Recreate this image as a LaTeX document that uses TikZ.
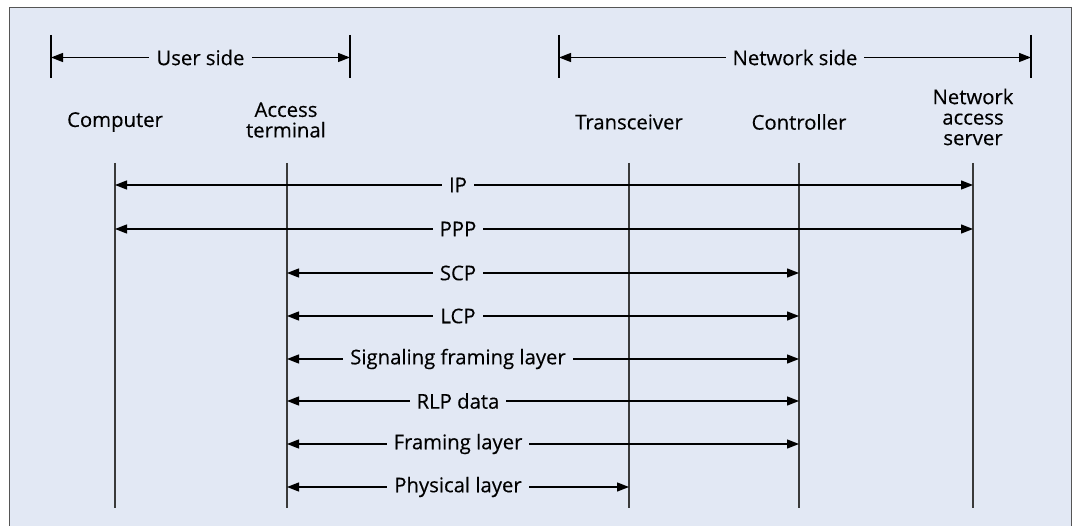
\documentclass[tikz,border=0pt]{standalone}
\usepackage{fontspec}
\setmainfont{Open Sans}[FakeBold=0.3]
\usetikzlibrary{arrows.meta}
\definecolor{bgfill}{HTML}{E2E8F4}
\definecolor{framec}{HTML}{555555}
\definecolor{linec}{HTML}{3A3A3A}
\tikzset{
  every node/.style={font=\fontsize{20.3}{20.5}\selectfont, text=black},
  lbl/.style={fill=bgfill, inner xsep=7pt, inner ysep=1pt},
  head/.style={align=center, inner sep=0pt},
  life/.style={draw=linec, line width=1.7pt},
  tickl/.style={draw=black, line width=1.1pt},
  dbl/.style={draw=black, line width=1.3pt, {Triangle[length=12pt,width=9pt]}-{Triangle[length=12pt,width=9pt]}},
}
\begin{document}
\begin{tikzpicture}[x=1pt,y=-1pt]
\useasboundingbox (0,0) rectangle (1075,526);
\fill[white] (0,0) rectangle (1075,526);
\filldraw[fill=bgfill, draw=framec, line width=1pt] (9,530) -- (9,8) -- (1071,8) -- (1071,530);

% span ticks
\coordinate (u1t) at (51,35); \coordinate (u1b) at (51,78);
\coordinate (u2t) at (350,35); \coordinate (u2b) at (350,78);
\coordinate (n1t) at (559,35); \coordinate (n1b) at (559,78);
\coordinate (n2t) at (1031,35); \coordinate (n2b) at (1031,78);
\draw[tickl] (u1t) -- (u1b);
\draw[tickl] (u2t) -- (u2b);
\draw[tickl] (n1t) -- (n1b);
\draw[tickl] (n2t) -- (n2b);
\coordinate (ua) at (51,57.5); \coordinate (ub) at (350,57.5);
\coordinate (na) at (559,57.5); \coordinate (nb) at (1031,57.5);
\draw[dbl] (ua) -- (ub);
\draw[dbl] (na) -- (nb);
\node[lbl] (user) at (200.5,57.5) {User side};
\node[lbl] (net) at (795,57.5) {Network side};

% headers
\node[head] (comp) at (115,122) {Computer};
\node[head] (at) at (286,120) {Access\\terminal};
\node[head] (tr) at (629,122) {Transceiver};
\node[head] (ctl) at (799,122) {Controller};
\node[head] (nas) at (973,117) {Network\\access\\server};

% lifelines
\coordinate (c0) at (115,163); \coordinate (c1) at (115,508);
\coordinate (a0) at (287,163); \coordinate (a1) at (287,508);
\coordinate (t0) at (629,163); \coordinate (t1) at (629,508);
\coordinate (k0) at (799,163); \coordinate (k1) at (799,508);
\coordinate (s0) at (973,163); \coordinate (s1) at (973,508);
\draw[life] (c0) -- (c1);
\draw[life] (a0) -- (a1);
\draw[life] (t0) -- (t1);
\draw[life] (k0) -- (k1);
\draw[life] (s0) -- (s1);

% protocol arrows
\foreach \y/\xa/\xb/\name/\txt in {
  185/115/973/ip/IP,
  229/115/973/ppp/PPP,
  273/287/799/scp/SCP,
  316/287/799/lcp/LCP,
  359/287/799/sfl/Signaling framing layer,
  401/287/799/rlp/RLP data,
  444/287/799/fl/Framing layer,
  487/287/629/pl/Physical layer}{
  \coordinate (\name-a) at (\xa,\y);
  \coordinate (\name-b) at (\xb,\y);
  \draw[dbl] (\name-a) -- (\name-b);
  \node[lbl] (\name) at (458,\y) {\txt};
}
\end{tikzpicture}
\end{document}
